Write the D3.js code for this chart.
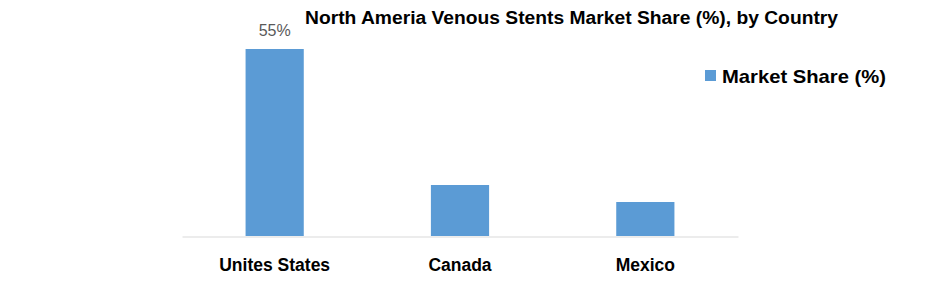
<html>
<head>
    <title>North America Venous Stents</title>
    <style>
        body { margin: 0; background: #fff; }
        text { font-family: "Liberation Sans", Arial, sans-serif; }
        .bar { fill: #5b9bd5; }
        .cat { font-weight: bold; font-size: 17.5px; fill: #000; }
    </style>
</head>
<body>
    <div id="container"></div>
    <script src="https://d3js.org/d3.v7.min.js"></script>
    <script>
        let width = 952,
            height = 282;

        let categories = ['Unites States', 'Canada', 'Mexico'];
        let shares = [55, 15, 10];
        let valueLabels = ['55%', '', ''];   // only the US bar is labelled
        let seriesName = 'Market Share (%)';
        let title = 'North Ameria Venous Stents Market Share (%), by Country';

        let svg = d3.select('#container')
            .append('svg')
            .attr('width', width)
            .attr('height', height);

        var x = d3.scaleBand().domain(categories).range([182, 738]).paddingInner(0.686).paddingOuter(0.343),
            y = d3.scaleLinear().domain([0, 55]).range([236, 49]);

        // title
        svg.append('text')
            .attr('x', 305)
            .attr('y', 24)
            .attr('textLength', 533)
            .attr('lengthAdjust', 'spacingAndGlyphs')
            .style('font-weight', 'bold')
            .style('font-size', '18px')
            .text(title);

        // bars
        svg.selectAll('.bar')
            .data(shares)
            .enter().append('rect')
            .attr('class', 'bar')
            .attr('x', function (d, i) { return x(categories[i]); })
            .attr('y', function (d) { return y(d); })
            .attr('width', x.bandwidth())
            .attr('height', function (d) { return y(0) - y(d); });

        svg.selectAll('.vlabel')
            .data(shares)
            .enter().append('text')
            .attr('class', 'vlabel')
            .attr('x', function (d, i) { return x(categories[i]) + x.bandwidth() / 2; })
            .attr('y', function (d) { return y(d) - 13; })
            .attr('text-anchor', 'middle')
            .style('font-size', '16px')
            .style('fill', '#595959')
            .text(function (d, i) { return valueLabels[i]; });

        // x axis
        let xAxis = svg.append('g')
            .attr('transform', 'translate(0,236.5)')
            .call(d3.axisBottom(x).tickSize(0).tickPadding(22));
        xAxis.select('.domain').attr('stroke', '#d9d9d9');
        xAxis.selectAll('text').attr('class', 'cat').attr('font-family', null).attr('font-size', null);

        // legend
        let legend = svg.append('g').attr('transform', 'translate(705,70)');
        legend.append('rect')
            .attr('width', 11).attr('height', 11)
            .attr('fill', '#5b9bd5');
        legend.append('text')
            .attr('x', 17)
            .attr('y', 13)
            .attr('textLength', 164)
            .attr('lengthAdjust', 'spacingAndGlyphs')
            .style('font-weight', 'bold')
            .style('font-size', '19px')
            .text(seriesName);
    </script>
</body>
</html>
